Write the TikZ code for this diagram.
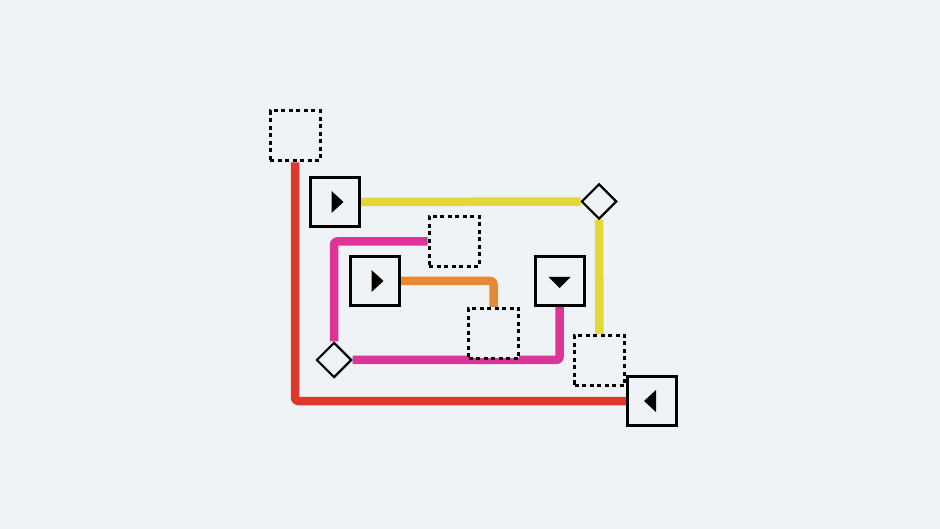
\documentclass[tikz,border=0pt]{standalone}
\usetikzlibrary{shapes.geometric,calc}
\definecolor{bg}{RGB}{239,243,246}
\definecolor{cred}{RGB}{222,56,44}
\definecolor{cyellow}{RGB}{226,216,58}
\definecolor{cpink}{RGB}{222,52,152}
\definecolor{corange}{RGB}{228,138,52}
\tikzset{
  solidbox/.style={draw=black, fill=bg, line width=3pt, minimum size=49pt, inner sep=0pt, rectangle},
  dotbox/.style={draw=black, fill=bg, line width=3pt, minimum size=50pt, inner sep=0pt, rectangle, dash pattern=on 4pt off 3.5pt},
  diam/.style={draw=black, fill=bg, line width=2pt, diamond, minimum size=35pt, inner sep=0pt},
  wire/.style={line width=8.5pt, rounded corners=3pt, line join=round},
  tri/.style={fill=black}
}
\begin{document}
\begin{tikzpicture}[x=1pt,y=-1pt]
\fill[bg] (0,0) rectangle (940,529);
\useasboundingbox (0,0) rectangle (940,529);
% nodes (named, placed first)
\node[dotbox]   (d0)  at (295,136) {};
\node[solidbox] (p1)  at (334.5,202) {};
\node[diam]     (dm1) at (599,201.5) {};
\node[dotbox]   (d1)  at (454,241.5) {};
\node[solidbox] (p2)  at (374.5,281) {};
\node[solidbox] (pd)  at (559.5,281) {};
\node[dotbox]   (d2)  at (493.5,333.5) {};
\node[dotbox]   (d3)  at (599.5,360.5) {};
\node[diam]     (dm2) at (334,360) {};
\node[solidbox] (pl)  at (652,401) {};
% wires
\draw[wire, cred]    (d0.south) |- (pl.west);
\draw[wire, cyellow] (p1.east) -- (dm1.west);
\draw[wire, cyellow] (dm1.south) -- (d3.north);
\draw[wire, cpink]   (d1.west) -| (dm2.north);
\draw[wire, cpink]   (dm2.east) -| (pd.south);
\draw[wire, corange] (p2.east) -| (d2.north);
% redraw nodes on top of the wires
\node[dotbox]   at (d0) {};
\node[solidbox] at (p1) {};
\node[diam]     at (dm1) {};
\node[dotbox]   at (d1) {};
\node[solidbox] at (p2) {};
\node[solidbox] at (pd) {};
\node[dotbox]   at (d2) {};
\node[dotbox]   at (d3) {};
\node[diam]     at (dm2) {};
\node[solidbox] at (pl) {};
% triangles
\fill[tri] ($(p1)+(-3,-11)$) -- ($(p1)+(-3,11)$) -- ($(p1)+(9,0)$) -- cycle;
\fill[tri] ($(p2)+(-3,-11)$) -- ($(p2)+(-3,11)$) -- ($(p2)+(9,0)$) -- cycle;
\fill[tri] ($(pd)+(-11,-4)$) -- ($(pd)+(11,-4)$) -- ($(pd)+(0,7)$) -- cycle;
\fill[tri] ($(pl)+(-8,0)$) -- ($(pl)+(4,-11)$) -- ($(pl)+(4,11)$) -- cycle;
\end{tikzpicture}
\end{document}
